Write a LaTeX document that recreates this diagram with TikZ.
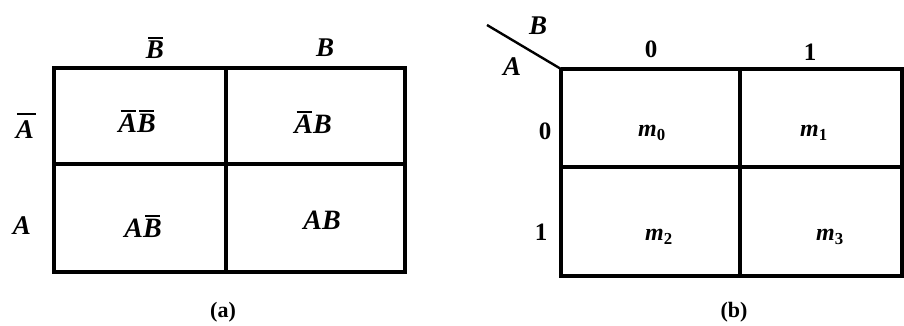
\documentclass[tikz,border=0pt]{standalone}
\usepackage{fontspec}
\setmainfont{Liberation Serif}
\newcommand\obar[1]{\setbox0=\hbox{#1}\leavevmode\rlap{\kern0.12\wd0\raise1.12\ht0\hbox{\rule{0.8\wd0}{1.8pt}}}\box0}
\newcommand\highbar[1]{\setbox0=\hbox{#1}\leavevmode\rlap{\kern0.05\wd0\raise1.35\ht0\hbox{\rule{1.05\wd0}{1.8pt}}}\box0}
\begin{document}
\begin{tikzpicture}[x=1pt,y=-1pt,
  grid/.style={line width=3.2pt},
  lab/.style={font=\fontsize{27}{30}\selectfont\bfseries\itshape, inner sep=0pt},
  digit/.style={font=\fontsize{25}{28}\selectfont\bfseries, inner sep=0pt},
  cell/.style={font=\fontsize{28}{30}\selectfont\bfseries\itshape, inner sep=0pt},
  mcell/.style={font=\fontsize{24}{26}\selectfont\bfseries\itshape, inner sep=0pt},
  captext/.style={font=\fontsize{22}{24}\selectfont\bfseries, inner sep=0pt}]
\useasboundingbox (0,0) rectangle (904,326);
% (a)
\draw[grid] (54,68) rectangle (405,272);
\draw[grid] (226,68) -- (226,272);
\draw[grid] (54,164) -- (405,164);
\node[lab] (bbar) at (155,48) {\obar{B}};
\node[lab] (b) at (325,48) {B};
\node[lab] (abar) at (25,126) {\highbar{A}};
\node[lab] (a) at (22,226) {A};
\node[cell] (c00) at (137,121) {\obar{A}\obar{B}};
\node[cell] (c01) at (313,122) {\obar{A}B};
\node[cell] (c10) at (143,226) {A\obar{B}};
\node[cell] (c11) at (322,220) {AB};
\node[captext] (capa) at (223,312) {(a)};
% (b)
\draw[grid] (561,69) -- (904,69);
\draw[grid] (561,69) -- (561,276) -- (904,276);
\draw[grid] (902,69) -- (902,276);
\draw[grid] (740,69) -- (740,276);
\draw[grid] (561,167) -- (904,167);
\coordinate (d1) at (487,25);
\coordinate (d2) at (561,69);
\draw[line width=2.4pt] (d1) -- (d2);
\node[lab] (bb) at (538,26) {B};
\node[lab] (ab) at (512,67) {A};
\node[digit] (col0) at (651,49) {0};
\node[digit] (col1) at (810,52) {1};
\node[digit] (row0) at (545,131) {0};
\node[digit] (row1) at (541,232) {1};
\node[mcell] (m0) at (652,133) {m\textsubscript{\upshape 0}};
\node[mcell] (m1) at (814,133) {m\textsubscript{\upshape 1}};
\node[mcell] (m2) at (659,237) {m\textsubscript{\upshape 2}};
\node[mcell] (m3) at (830,237) {m\textsubscript{\upshape 3}};
\node[captext] (capb) at (734,312) {(b)};
\end{tikzpicture}
\end{document}
